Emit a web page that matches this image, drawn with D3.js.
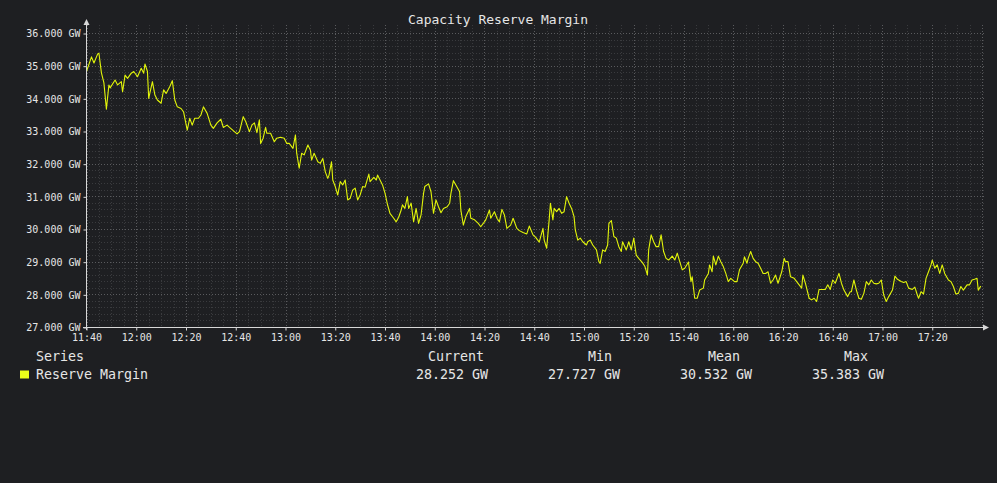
<!DOCTYPE html>
<html>
<head>
<meta charset="utf-8">
<script src="https://cdn.jsdelivr.net/npm/d3@7"></script>
<style>
  html, body { margin: 0; padding: 0; background: #1e1f22; }
  svg { display: block; font-family: "DejaVu Sans Mono", monospace; }
</style>
</head>
<body>
<div id="chart"></div>
<script>
// Reserve margin series, minutes after 11:40 and GW values
const startTime = "11:40";
const minutes = [
  0, 2, 3, 4.5, 5, 6, 7, 8, 9, 9.5, 11.5, 12.5, 14, 14.5, 15.5, 16.5, 18, 19, 20.5, 22,
  23, 23.5, 24.5, 25, 26.5, 27.5, 28.5, 30, 31, 32, 33.5, 34.5, 35.5, 36.5, 38, 39, 40.5, 41.5, 42.5, 43.5,
  45, 46, 47, 48.5, 50, 51, 52.5, 54, 55, 56.5, 57.5, 59, 60.5, 61.5, 63, 64, 65.5, 66.5, 67.5, 68.5,
  69.5, 70, 71, 72, 72.5, 74, 75.5, 76.5, 78, 79.5, 80.5, 81.5, 83, 84, 84.5, 85.5, 86.5, 87.5, 89, 90,
  90.5, 91.5, 93, 94, 95, 96, 97, 97.5, 98.5, 99, 100, 101, 102, 103, 104, 105, 106, 107, 108, 109,
  110, 111, 112, 113.5, 114, 115.5, 116.5, 117, 118, 119, 120, 121, 122, 123.5, 124.5, 125.5, 126.5, 127, 128, 129,
  129.5, 130.5, 131.5, 132.5, 133.5, 134.5, 135.5, 136, 137.5, 138.5, 139.5, 140.5, 141.5, 142.5, 143.5, 145, 146, 146.5, 147.5, 149,
  150, 150.5, 151.5, 152.5, 154, 154.5, 156, 157.5, 158.5, 159.5, 160.5, 162, 162.5, 164, 165, 166, 167, 168, 169, 170.5,
  171.5, 173, 174, 175.5, 177, 178, 179.5, 180.5, 182, 183.5, 184, 185, 186, 186.5, 187.5, 188, 189, 190, 191, 192,
  193, 194, 195, 196, 196.5, 197.5, 198.5, 199.5, 201, 201.5, 202.5, 203.5, 205, 206, 206.5, 207.5, 208.5, 209.5, 210, 211,
  212, 213, 214, 215, 215.5, 217, 218, 219, 220, 221, 222, 223.5, 224.5, 225.5, 226, 227, 228, 229, 230, 231,
  232, 233, 234, 235.5, 236.5, 237.5, 238.5, 239.5, 240.5, 242, 243, 243.5, 244.5, 245.5, 246.5, 248, 248.5, 250, 250.5, 251.5,
  252, 253, 254, 255, 256, 257, 258, 259, 260.5, 261.5, 262.5, 264, 264.5, 265.5, 266, 267, 268, 269, 270, 271,
  272, 273, 274, 275, 276, 277, 278, 279.5, 280.5, 281, 282, 283, 284.5, 285.5, 286.5, 287.5, 288, 289, 290.5, 291.5,
  292.5, 293.5, 294.5, 296, 297, 298, 299, 300, 301, 302.5, 303.5, 304.5, 306, 307, 307.5, 308.5, 309.5, 310.5, 311.5, 312.5,
  313.5, 314.5, 315.5, 316.5, 317.5, 318.5, 319.5, 320.5, 321.5, 322.5, 324, 325, 326, 327.5, 328.5, 329.5, 330.5, 332, 333, 334,
  334.5, 335.5, 336.5, 337.5, 338.5, 339.5, 340, 341, 342, 343, 344, 345, 346.5, 347.5, 348.5, 349.5, 350.5, 351.5, 352.5, 354,
  355, 356, 357, 358, 358.5, 359.5
];
const values = [
  34.82, 35.27, 35.08, 35.36, 35.38, 34.78, 34.47, 33.67, 34.41, 34.32, 34.56, 34.41, 34.51, 34.20, 34.71, 34.61, 34.77, 34.82, 34.66, 34.92,
  34.77, 35.05, 34.82, 34.00, 34.51, 34.10, 33.95, 33.85, 34.26, 34.15, 34.36, 34.54, 33.95, 33.74, 33.69, 33.59, 33.03, 33.39, 33.18, 33.39,
  33.39, 33.49, 33.74, 33.54, 33.18, 33.08, 33.25, 33.36, 33.11, 33.18, 33.11, 33.01, 32.91, 32.98, 33.44, 33.29, 32.98, 33.18, 33.25, 32.95,
  33.34, 32.62, 32.78, 33.11, 32.93, 32.93, 32.67, 32.78, 32.81, 32.78, 32.62, 32.62, 32.47, 32.88, 32.32, 31.86, 32.32, 32.27, 32.57, 32.42,
  32.11, 32.32, 32.06, 32.01, 32.16, 31.75, 31.55, 31.65, 32.06, 31.50, 31.30, 31.04, 31.45, 31.35, 31.50, 30.89, 30.94, 31.19, 31.25, 30.89,
  31.04, 31.30, 31.28, 31.68, 31.45, 31.58, 31.50, 31.65, 31.50, 31.35, 31.10, 30.75, 30.48, 30.33, 30.22, 30.36, 30.58, 30.74, 30.63, 30.99,
  30.63, 30.79, 30.22, 30.63, 30.17, 30.43, 31.09, 31.30, 31.38, 31.14, 30.48, 30.89, 30.68, 30.50, 30.63, 30.68, 30.79, 31.09, 31.48, 31.28,
  31.14, 30.58, 30.12, 30.38, 30.63, 30.33, 30.28, 30.17, 30.07, 30.17, 30.28, 30.58, 30.33, 30.53, 30.33, 30.22, 30.60, 30.43, 30.02, 30.12,
  30.33, 30.02, 29.95, 29.89, 29.85, 30.09, 29.82, 29.75, 29.60, 30.02, 29.66, 29.41, 30.28, 30.79, 30.28, 30.63, 30.53, 30.63, 30.48, 30.53,
  30.99, 30.79, 30.63, 30.38, 29.97, 29.66, 29.72, 29.61, 29.51, 29.61, 29.66, 29.51, 29.36, 29.00, 28.95, 29.36, 29.31, 29.51, 30.17, 30.26,
  29.77, 29.72, 29.46, 29.31, 29.61, 29.36, 29.61, 29.36, 29.72, 29.20, 29.10, 28.97, 28.85, 28.59, 29.36, 29.82, 29.61, 29.46, 29.46, 29.82,
  29.31, 29.10, 29.05, 29.17, 29.05, 29.26, 29.00, 28.75, 28.80, 28.99, 28.39, 28.54, 27.88, 27.88, 28.13, 28.19, 28.44, 28.64, 28.90, 28.69,
  29.17, 28.90, 29.17, 29.00, 28.85, 28.64, 28.39, 28.49, 28.39, 28.39, 28.75, 28.95, 29.15, 28.95, 29.10, 29.31, 29.10, 29.00, 28.95, 28.80,
  28.64, 28.64, 28.69, 28.34, 28.44, 28.59, 28.34, 28.69, 29.10, 29.00, 29.00, 28.54, 28.49, 28.39, 28.29, 28.19, 28.59, 28.34, 27.88, 27.83,
  27.88, 27.78, 28.15, 28.15, 28.15, 28.29, 28.15, 28.44, 28.34, 28.64, 28.34, 28.13, 27.93, 28.08, 28.08, 28.44, 28.13, 27.88, 27.85, 28.03,
  28.39, 28.29, 28.44, 28.34, 28.32, 28.34, 28.44, 27.98, 27.78, 27.93, 28.13, 28.56, 28.46, 28.39, 28.36, 28.39, 28.19, 28.15, 28.22, 27.98,
  27.88, 28.08, 28.01, 28.49, 28.69, 28.90, 29.05, 28.80, 28.90, 28.64, 28.90, 28.64, 28.44, 28.39, 28.24, 28.01, 28.03, 28.24, 28.13, 28.29,
  28.29, 28.44, 28.46, 28.49, 28.13, 28.25
];

// Legend table
const statNames = ["Current", "Min", "Mean", "Max"];
const statValues = ["28.252 GW", "27.727 GW", "30.532 GW", "35.383 GW"];

const width = 997, height = 483;
const margin = { left: 86, right: 15, top: 33, bottom: 156 };

const parseTime = d3.timeParse("%H:%M");
const t0 = parseTime(startTime);
const data = minutes.map((m, i) => ({ t: t0.getTime() + m * 60000, v: values[i] }));

const svg = d3.select("#chart")
    .append("svg")
    .attr("width", width)
    .attr("height", height);

const x = d3.scaleTime()
    .domain([t0, d3.timeMinute.offset(t0, 360)])
    .range([margin.left + 0.5, 982]);

const y = d3.scaleLinear()
    .domain([27, 36])
    .range([327, margin.top]);

const gridColor = "#5a5b5e";
const minorColor = "#3a3b3e";

// Minor grid
svg.append("g")
    .selectAll("line")
    .data(x.ticks(d3.timeMinute.every(5)))
    .enter()
    .append("line")
    .attr("x1", d => Math.round(x(d)) + 0.5)
    .attr("x2", d => Math.round(x(d)) + 0.5)
    .attr("y1", 25)
    .attr("y2", 327)
    .attr("stroke", minorColor)
    .attr("stroke-dasharray", "1,2");

svg.append("g")
    .selectAll("line")
    .data(d3.range(27, 36.01, 0.2))
    .enter()
    .append("line")
    .attr("x1", margin.left)
    .attr("x2", 984)
    .attr("y1", d => Math.round(y(d)) + 0.5)
    .attr("y2", d => Math.round(y(d)) + 0.5)
    .attr("stroke", minorColor)
    .attr("stroke-dasharray", "1,2");

// Major grid
const xMajor = x.ticks(d3.timeMinute.every(20));
svg.append("g")
    .selectAll("line")
    .data(xMajor)
    .enter()
    .append("line")
    .attr("x1", d => Math.round(x(d)) + 0.5)
    .attr("x2", d => Math.round(x(d)) + 0.5)
    .attr("y1", 25)
    .attr("y2", 327)
    .attr("stroke", gridColor)
    .attr("stroke-dasharray", "1,2");

const yMajor = d3.range(27, 37, 1);
svg.append("g")
    .selectAll("line")
    .data(yMajor)
    .enter()
    .append("line")
    .attr("x1", margin.left)
    .attr("x2", 984)
    .attr("y1", d => Math.round(y(d)) + 0.5)
    .attr("y2", d => Math.round(y(d)) + 0.5)
    .attr("stroke", gridColor)
    .attr("stroke-dasharray", "1,2");

// Series line
const line = d3.line()
    .x(d => x(d.t))
    .y(d => y(d.v));

svg.append("path")
    .datum(data)
    .attr("fill", "none")
    .attr("stroke", "#e2f50a")
    .attr("stroke-width", 1.1)
    .attr("stroke-linejoin", "round")
    .attr("d", line);

// Axes
const axisColor = "#d8d8d8";
svg.append("line")
    .attr("x1", 86.5).attr("x2", 86.5)
    .attr("y1", 24).attr("y2", 330)
    .attr("stroke", axisColor);
svg.append("path")
    .attr("d", "M83.5,25 L86.5,19 L89.5,25 Z")
    .attr("fill", axisColor);
svg.append("line")
    .attr("x1", 83).attr("x2", 984)
    .attr("y1", 327.5).attr("y2", 327.5)
    .attr("stroke", axisColor);
svg.append("path")
    .attr("d", "M983,324.5 L989,327.5 L983,330.5 Z")
    .attr("fill", axisColor);

const yAxis = d3.axisLeft(y)
    .tickValues(yMajor)
    .tickSize(3)
    .tickPadding(3)
    .tickFormat(d => d3.format(".3f")(d) + " GW");
svg.append("g")
    .attr("transform", "translate(86.5,0.5)")
    .call(yAxis)
    .call(g => g.select(".domain").remove())
    .call(g => g.selectAll("line").attr("stroke", axisColor))
    .call(g => g.selectAll("text")
        .attr("fill", "#e6e6e6")
        .style("font-family", "DejaVu Sans Mono, monospace")
        .style("font-size", "10px"));

const xAxis = d3.axisBottom(x)
    .tickValues(xMajor.filter(d => d < d3.timeMinute.offset(t0, 360)))
    .tickSize(3)
    .tickPadding(3)
    .tickFormat(d3.timeFormat("%H:%M"));
svg.append("g")
    .attr("transform", "translate(0,327.5)")
    .call(xAxis)
    .call(g => g.select(".domain").remove())
    .call(g => g.selectAll("line").attr("stroke", axisColor))
    .call(g => g.selectAll("text")
        .attr("fill", "#e6e6e6")
        .style("font-family", "DejaVu Sans Mono, monospace")
        .style("font-size", "10px"));

// Title
svg.append("text")
    .attr("x", 498)
    .attr("y", 24)
    .attr("text-anchor", "middle")
    .attr("fill", "#e6e6e6")
    .style("font-size", "13px")
    .text("Capacity Reserve Margin");

// Legend
const legendFont = "13.3px";
svg.append("text")
    .attr("x", 36).attr("y", 361)
    .attr("fill", "#e6e6e6")
    .style("font-size", legendFont)
    .text("Series");
svg.append("rect")
    .attr("x", 20).attr("y", 370.5)
    .attr("width", 9).attr("height", 8)
    .attr("fill", "#eaff1a");
svg.append("text")
    .attr("x", 36).attr("y", 379)
    .attr("fill", "#e6e6e6")
    .style("font-size", legendFont)
    .text("Reserve Margin");

const headerRight = [484, 612, 740, 868];
const valueRight = [488, 620, 752, 884];
svg.append("g")
    .selectAll("text")
    .data(statNames)
    .enter()
    .append("text")
    .attr("x", (d, i) => headerRight[i])
    .attr("y", 361)
    .attr("text-anchor", "end")
    .attr("fill", "#e6e6e6")
    .style("font-size", legendFont)
    .text(d => d);
svg.append("g")
    .selectAll("text")
    .data(statValues)
    .enter()
    .append("text")
    .attr("x", (d, i) => valueRight[i])
    .attr("y", 379)
    .attr("text-anchor", "end")
    .attr("fill", "#e6e6e6")
    .style("font-size", legendFont)
    .text(d => d);
</script>
</body>
</html>
